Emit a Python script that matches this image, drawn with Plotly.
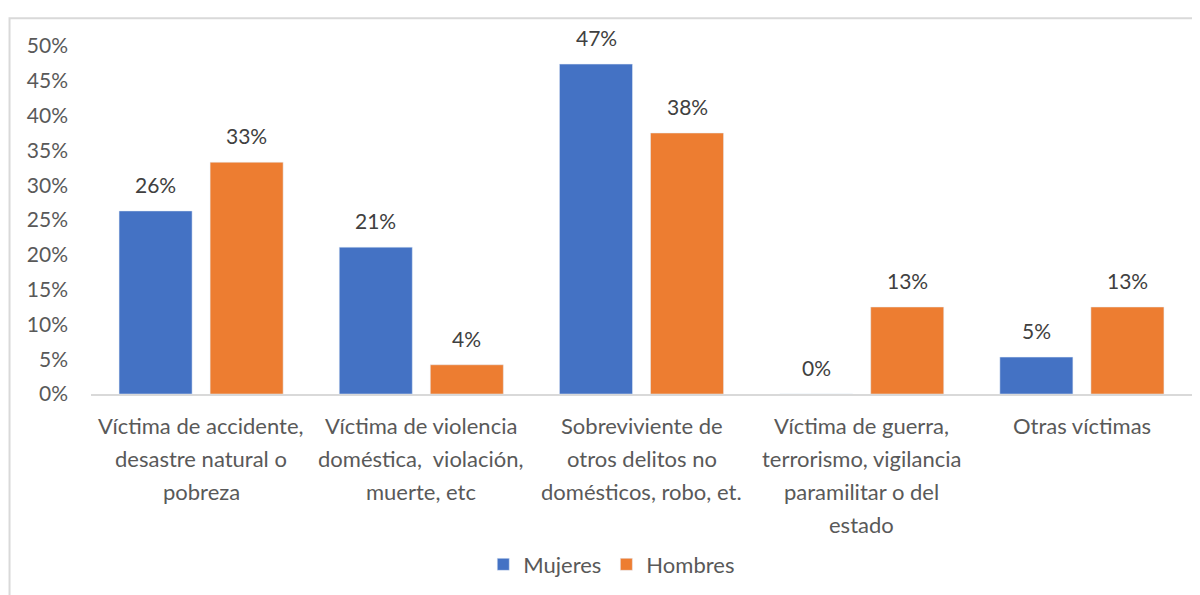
import plotly.graph_objects as go

categories = [
    "Víctima de accidente,<br>desastre natural o<br>pobreza",
    "Víctima de violencia<br>doméstica,  violación,<br>muerte, etc",
    "Sobreviviente de<br>otros delitos no<br>domésticos, robo, et.",
    "Víctima de guerra,<br>terrorismo, vigilancia<br>paramilitar o del<br>estado",
    "Otras víctimas",
]
mujeres = [0.263, 0.211, 0.474, 0.0, 0.053]
hombres = [0.333, 0.042, 0.375, 0.125, 0.125]
y_ticks = [0, 0.05, 0.10, 0.15, 0.20, 0.25, 0.30, 0.35, 0.40, 0.45, 0.50]

FONT = "Lato, Open Sans, sans-serif"
GREY = "#595959"
FS = 21


def pct(v):
    # round half up like Excel
    return f"{int(v * 100 + 0.5)}%"


fig = go.Figure()

fig.add_trace(go.Bar(x=categories, y=mujeres, name="Mujeres", marker_color="#4472C4"))
fig.add_trace(go.Bar(x=categories, y=hombres, name="Hombres", marker_color="#ED7D31"))

# data labels a little further from the bars, Excel style
for vals, shift in [(mujeres, -45.5), (hombres, 45.5)]:
    for cat, v in zip(categories, vals):
        fig.add_annotation(
            x=cat, y=v, xref="x", yref="y", text=pct(v), showarrow=False,
            yanchor="bottom", xshift=shift, yshift=12,
            font=dict(size=FS, color="#404040", family=FONT),
        )

# category labels with Excel-like line spacing
for cat in categories:
    for i, line in enumerate(cat.split("<br>")):
        fig.add_annotation(
            x=cat, y=0, xref="x", yref="y", text=line, showarrow=False,
            yanchor="top", yshift=-16 - 33 * i,
            font=dict(size=22, color=GREY, family=FONT),
        )

# outer chart border
fig.add_shape(type="rect", xref="paper", yref="paper",
              x0=-0.074, x1=1.03, y0=-0.7, y1=1.08,
              line=dict(color="#D9D9D9", width=2), layer="below")

fig.update_layout(
    width=1192, height=587,
    plot_bgcolor="white", paper_bgcolor="white",
    font=dict(family=FONT, size=FS, color=GREY),
    barmode="group", bargap=0.173, bargroupgap=0.198,
    margin=dict(l=83, r=8, t=38, b=201),
    showlegend=True,
    legend=dict(orientation="h", x=0.473, xanchor="center", y=-0.49, yanchor="middle",
                font=dict(size=22, color=GREY), itemwidth=30, traceorder="normal"),
)
fig.update_xaxes(showticklabels=False, showline=True, linecolor="#D9D9D9", linewidth=2,
                 showgrid=False, ticks="")
fig.update_yaxes(range=[0, 0.5], tickvals=y_ticks, tickformat=".0%", showgrid=False,
                 zeroline=False, showline=False, ticklabelstandoff=22,
                 tickfont=dict(size=FS, color=GREY))

fig.write_html("out.html")
